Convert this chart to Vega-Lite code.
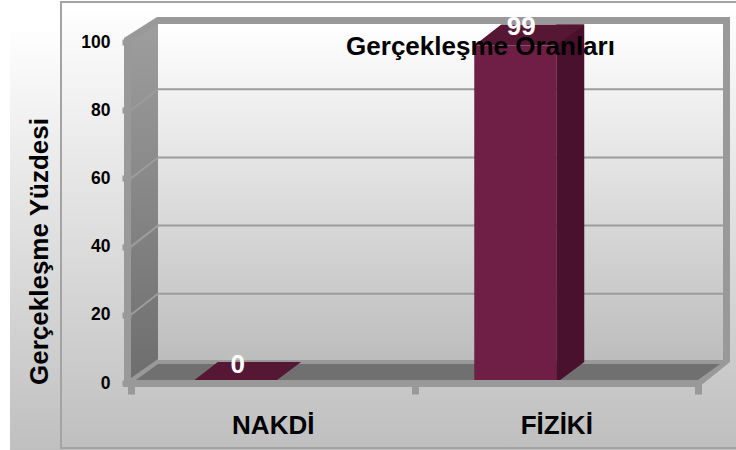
{
"$schema":"https://vega.github.io/schema/vega-lite/v6.json",
"width":567,"height":341,
"autosize":{"type":"none"},
"padding":{"left":131,"top":42,"right":38,"bottom":67},
"background":"white",
"view":{"stroke":null},
"title":{"text":"Gerçekleşme Oranları","anchor":"middle","dx":66,"dy":62,"offset":0,"font":"Liberation Sans","fontWeight":"bold","fontSize":26,"color":"#000000"},
"datasets":{
 "bars":[{"cat":"NAKDİ","value":0},{"cat":"FİZİKİ","value":99}],
 "ticks":[{"tick":20},{"tick":40},{"tick":60},{"tick":80}]
},
"data":{"name":"bars"},
"encoding":{
 "x":{"field":"cat","type":"nominal","title":null,"scale":{"type":"band","domain":["NAKDİ","FİZİKİ"],"paddingInner":0,"paddingOuter":0},
  "axis":{"zindex":1,"domain":false,"grid":false,"tickBand":"extent","tickColor":"#999999","tickSize":11,"tickWidth":7,"labelAngle":0,"labelPadding":18,"labelFont":"Liberation Sans","labelFontWeight":"bold","labelFontSize":26,"labelColor":"#000000"}},
 "y":{"field":"value","type":"quantitative","title":"Gerçekleşme Yüzdesi","scale":{"domain":[0,100],"nice":false},
  "axis":{"zindex":1,"domain":false,"grid":false,"values":[0,20,40,60,80,100],"tickColor":"#999999","tickSize":9,"tickWidth":6,"labelPadding":12,"labelFont":"Liberation Sans","labelFontWeight":"bold","labelFontSize":17.5,"labelColor":"#000000","titleFont":"Liberation Sans","titleFontWeight":"bold","titleFontSize":26,"titleColor":"#000000","titlePadding":28,"titleY":209}}
},
"layer":[
 {"transform":[{"filter":"datum.cat==='NAKDİ'"}],
  "mark":{"type":"point","filled":true,"opacity":1,"size":4,"shape":"M-121 -358L609 -358L609 69L-121 69Z","fill":{"gradient":"linear","x1":0,"y1":0,"x2":0,"y2":1,"stops":[{"offset":0,"color":"#ffffff"},{"offset":1,"color":"#bfbfbf"}]}},
  "encoding":{"x":{"datum":"NAKDİ","bandPosition":0},"y":{"datum":0}}},
 {"transform":[{"filter":"datum.cat==='NAKDİ'"}],
  "mark":{"type":"point","filled":true,"opacity":1,"size":4,"shape":"M-70 -381L610 -381L610 65L-70 65Z","stroke":"#a3a3a3","strokeWidth":2,"fill":{"gradient":"linear","x1":0,"y1":0,"x2":0,"y2":1,"stops":[{"offset":0,"color":"#ffffff"},{"offset":1,"color":"#bfbfbf"}]}},
  "encoding":{"x":{"datum":"NAKDİ","bandPosition":0},"y":{"datum":0}}},
 {"transform":[{"filter":"datum.cat==='NAKDİ'"}],
  "mark":{"type":"point","filled":true,"opacity":1,"size":4,"shape":"M-7 -345L26 -366L599 -366L599 -21L568 4L-7 4Z","fill":"#999999"},
  "encoding":{"x":{"datum":"NAKDİ","bandPosition":0},"y":{"datum":0}}},
 {"transform":[{"filter":"datum.cat==='NAKDİ'"}],
  "mark":{"type":"point","filled":true,"opacity":1,"size":4,"shape":"M0 -341L27 -359L27 -24L0 -5Z","fill":{"gradient":"linear","x1":0,"y1":0,"x2":0,"y2":1,"stops":[{"offset":0,"color":"#9e9e9e"},{"offset":1,"color":"#6e6e6e"}]}},
  "encoding":{"x":{"datum":"NAKDİ","bandPosition":0},"y":{"datum":0}}},
 {"transform":[{"filter":"datum.cat==='NAKDİ'"}],
  "mark":{"type":"point","filled":true,"opacity":1,"size":4,"shape":"M27 -359L592 -359L592 -23L27 -23Z","fill":{"gradient":"linear","x1":0,"y1":0,"x2":0,"y2":1,"stops":[{"offset":0,"color":"#ffffff"},{"offset":1,"color":"#bdbdbd"}]}},
  "encoding":{"x":{"datum":"NAKDİ","bandPosition":0},"y":{"datum":0}}},
 {"transform":[{"filter":"datum.cat==='NAKDİ'"}],
  "mark":{"type":"point","filled":true,"opacity":1,"size":4,"shape":"M5 -3L27 -19L589 -19L567 -3Z","fill":"#707070"},
  "encoding":{"x":{"datum":"NAKDİ","bandPosition":0},"y":{"datum":0}}},
 {"data":{"name":"ticks"},
  "mark":{"type":"point","filled":false,"opacity":1,"size":4,"shape":"M0 0L27 -21L592 -21","fill":"transparent","stroke":"#9c9c9c","strokeWidth":2},
  "encoding":{"x":{"datum":"NAKDİ","bandPosition":0},"y":{"field":"tick","type":"quantitative"}}},
 {"mark":{"type":"bar","size":28,"xOffset":14,"yOffset":-21,"y2Offset":-21,"fill":"#4a112e"},
  "encoding":{"y2":{"datum":0}}},
 {"mark":{"type":"point","filled":true,"opacity":1,"size":4,"shape":"M0 0L28 -21L0 -21Z","fill":"#4a112e"},
  "encoding":{"y":{"datum":0}}},
 {"mark":{"type":"bar","size":82,"xOffset":-41,"fill":"#6f1f45"},
  "encoding":{"y2":{"datum":0}}},
 {"mark":{"type":"point","filled":true,"opacity":1,"size":4,"shape":"M-82 0L0 0L28 -21L-55 -21Z","fill":"#561735"}},
 {"transform":[{"filter":"datum.cat==='NAKDİ'"}],
  "mark":{"type":"point","filled":true,"opacity":1,"size":4,"shape":"M-7 -3L567 -3L568 4L-7 4Z","fill":"#999999"},
  "encoding":{"x":{"datum":"NAKDİ","bandPosition":0},"y":{"datum":0}}},
 {"mark":{"type":"text","font":"Liberation Sans","fontWeight":"bold","fontSize":26,"fill":"#ffffff","xOffset":-35,"yOffset":-18,"baseline":"middle","align":"center"},
  "encoding":{"text":{"field":"value","type":"quantitative"}}}
]
}
